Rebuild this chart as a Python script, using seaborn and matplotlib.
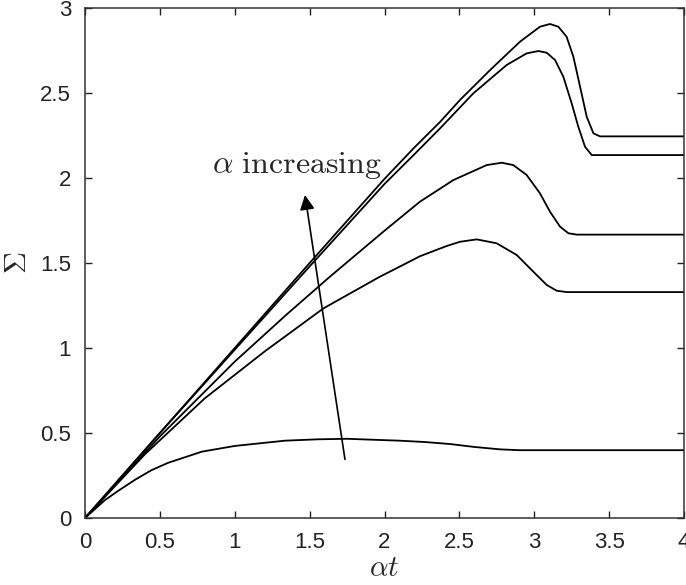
import matplotlib
matplotlib.use('Agg')
import matplotlib.pyplot as plt
import numpy as np
import pandas as pd
import seaborn as sns

# values (alpha*t vs Sigma), five curves
t1 = [0, 0.134, 0.222, 0.334, 0.445, 0.556, 0.779, 1.0, 1.336, 1.556, 1.75, 2.0, 2.1, 2.27, 2.44, 2.6, 2.77, 2.9, 4.0]
s1 = [0, 0.106, 0.16, 0.225, 0.282, 0.325, 0.39, 0.424, 0.455, 0.463, 0.466, 0.458, 0.455, 0.447, 0.435, 0.418, 0.404, 0.399, 0.399]

t2 = [0, 0.4, 0.8, 1.2, 1.592, 1.97, 2.08, 2.237, 2.415, 2.504, 2.616, 2.749, 2.883, 2.994, 3.083, 3.15, 3.217, 4.0]
s2 = [0, 0.375, 0.704, 0.98, 1.233, 1.42, 1.469, 1.54, 1.6, 1.625, 1.639, 1.616, 1.547, 1.449, 1.371, 1.337, 1.329, 1.329]

t3 = [0, 0.5, 1.0, 1.35, 1.636, 2.0, 2.237, 2.46, 2.682, 2.783, 2.86, 2.949, 3.038, 3.105, 3.172, 3.228, 3.283, 4.0]
s3 = [0, 0.48, 0.92, 1.2, 1.42, 1.69, 1.861, 1.988, 2.076, 2.09, 2.076, 2.018, 1.91, 1.802, 1.714, 1.675, 1.667, 1.667]

t4 = [0, 0.5, 1.0, 1.5, 2.0, 2.2, 2.371, 2.593, 2.816, 2.949, 3.027, 3.083, 3.139, 3.194, 3.25, 3.294, 3.339, 3.384, 4.0]
s4 = [0, 0.5, 0.99, 1.48, 1.965, 2.14, 2.292, 2.498, 2.665, 2.733, 2.747, 2.737, 2.694, 2.596, 2.439, 2.302, 2.184, 2.135, 2.135]

t5 = [0, 0.5, 1.0, 1.5, 2.0, 2.2, 2.371, 2.504, 2.705, 2.905, 3.038, 3.105, 3.161, 3.216, 3.261, 3.306, 3.35, 3.395, 3.439, 4.0]
s5 = [0, 0.5, 1.0, 1.5, 1.995, 2.18, 2.33, 2.459, 2.635, 2.802, 2.89, 2.906, 2.89, 2.831, 2.714, 2.537, 2.361, 2.263, 2.245, 2.245]

curves = [(t1, s1), (t2, s2), (t3, s3), (t4, s4), (t5, s5)]
frames = []
for i, (t, s) in enumerate(curves):
    frames.append(pd.DataFrame({'at': t, 'sigma': s, 'curve': i}))
df = pd.concat(frames, ignore_index=True)

sns.set_theme(style='ticks')
plt.rcParams['font.family'] = ['Liberation Sans', 'DejaVu Sans']
plt.rcParams['mathtext.fontset'] = 'cm'

fig = plt.figure(figsize=(6.86, 5.85), dpi=100)
ax = fig.add_axes([0.1239, 0.1145, 0.8732, 0.8718])

for i in range(5):
    sns.lineplot(data=df[df['curve'] == i], x='at', y='sigma', sort=False,
                 color='black', linewidth=1.3, ax=ax, legend=False)

ax.set_xlim(0, 4)
ax.set_ylim(0, 3)
ax.set_xticks(np.arange(0, 4.01, 0.5))
ax.set_yticks(np.arange(0, 3.01, 0.5))
ax.set_xticklabels(['0', '0.5', '1', '1.5', '2', '2.5', '3', '3.5', '4'])
ax.set_yticklabels(['0', '0.5', '1', '1.5', '2', '2.5', '3'])
ax.tick_params(direction='in', length=5, width=1, top=True, right=True,
               labelsize=16, colors='#222222', pad=10)
for sp in ax.spines.values():
    sp.set_visible(True)
    sp.set_color('#333333')
    sp.set_linewidth(1.1)

ax.set_xlabel(r'$\alpha t$', fontsize=21, labelpad=1)
ax.set_ylabel(r'$\Sigma$', fontsize=22, labelpad=5)

ax.annotate('', xy=(1.469, 1.9), xytext=(1.736, 0.345),
            arrowprops=dict(arrowstyle='-|>', color='black', lw=1.2,
                            mutation_scale=22, shrinkA=0, shrinkB=0))
ax.text(0.85, 2.075, r'$\alpha\ \mathrm{increasing}$', fontsize=23,
        ha='left', va='center')

fig.savefig('out.png', dpi=100)
